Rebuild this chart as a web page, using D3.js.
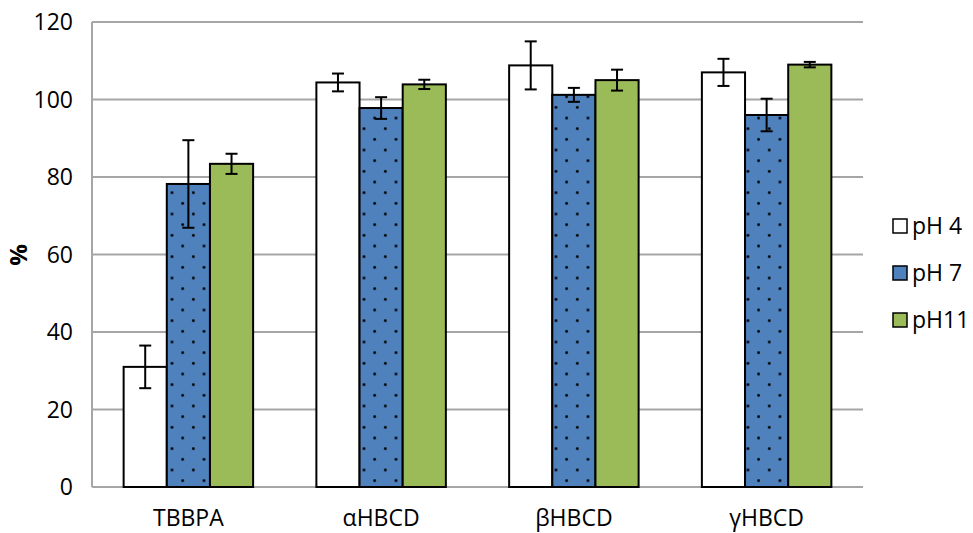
<!DOCTYPE html>
<html>
	<head>
		<meta charset="utf-8">
		<script src="https://cdn.jsdelivr.net/npm/d3@7"></script>
		<title>pH recovery chart</title>
		<style>
			body { margin:0; background:#fff; }
			text { font-family:"Open Sans", sans-serif; fill:#000; }
		</style>
	</head>
	<body>
		<script type="text/javascript" charset="utf-8">
			// data
			var categories = ["TBBPA", "αHBCD", "βHBCD", "γHBCD"];
			var series = ["pH 4", "pH 7", "pH11"];
			var pH4 = [31, 104.4, 108.8, 107];
			var pH7 = [78.2, 97.8, 101.2, 96];
			var pH11 = [83.4, 103.9, 105, 109];
			var pH4Err = [5.5, 2.3, 6.2, 3.5];
			var pH7Err = [11.3, 2.8, 1.8, 4.2];
			var pH11Err = [2.6, 1.2, 2.7, 0.7];
			var yTicks = [0, 20, 40, 60, 80, 100, 120];

			var values = [pH4, pH7, pH11];
			var errors = [pH4Err, pH7Err, pH11Err];
			var fills = ["#ffffff", "url(#dots)", "#9bbb59"];
			var legendFills = ["#ffffff", "#4f81bd", "#9bbb59"];

			var W = 973, H = 533;
			var mLeft = 92, mRight = 863, mTop = 22, mBottom = 487;

			var svg = d3.select("body").append("svg")
				.attr("width", W)
				.attr("height", H);

			// dotted pattern for the pH 7 bars
			var pat = svg.append("defs").append("pattern")
				.attr("id", "dots")
				.attr("patternUnits", "userSpaceOnUse")
				.attr("x", 166.7).attr("y", 187.4)
				.attr("width", 21.33).attr("height", 21.33);
			pat.append("rect").attr("width", 21.33).attr("height", 21.33).attr("fill", "#4f81bd");
			pat.append("circle").attr("cx", 5.33).attr("cy", 5.33).attr("r", 1.45).attr("fill", "#000");
			pat.append("circle").attr("cx", 16).attr("cy", 16).attr("r", 1.45).attr("fill", "#000");

			var y = d3.scaleLinear().domain([0, 120]).range([mBottom, mTop]);
			var x0 = d3.scaleBand().domain(categories).range([mLeft, mRight]).padding(0);
			var x1 = d3.scaleBand().domain(series).range([0, x0.bandwidth()])
				.paddingInner(0).paddingOuter(0.733);

			// gridlines
			svg.append("g").selectAll("line")
				.data(yTicks)
				.enter().append("line")
				.attr("x1", mLeft).attr("x2", mRight)
				.attr("y1", function(d){ return y(d); })
				.attr("y2", function(d){ return y(d); })
				.attr("stroke", "#a6a6a6")
				.attr("stroke-width", 2);
			svg.append("line")
				.attr("x1", mLeft).attr("x2", mLeft)
				.attr("y1", mTop).attr("y2", mBottom)
				.attr("stroke", "#a6a6a6").attr("stroke-width", 2);

			// y tick labels
			svg.append("g").selectAll("text")
				.data(yTicks)
				.enter().append("text")
				.attr("x", 73)
				.attr("y", function(d){ return y(d); })
				.attr("dy", "0.35em")
				.attr("text-anchor", "end")
				.style("font-size", "23px")
				.text(function(d){ return d; });

			// y axis title
			svg.append("text")
				.attr("transform", "translate(19,255) rotate(-90)")
				.attr("dy", "0.35em")
				.attr("text-anchor", "middle")
				.style("font-size", "24px")
				.style("font-weight", "bold")
				.text("%");

			// x labels
			svg.append("g").selectAll("text")
				.data(categories)
				.enter().append("text")
				.attr("x", function(d){ return x0(d) + x0.bandwidth() / 2; })
				.attr("y", 518)
				.attr("dy", "0.35em")
				.attr("text-anchor", "middle")
				.style("font-size", "23px")
				.text(function(d){ return d; });

			// bars
			var rows = [];
			categories.forEach(function(c, i){
				series.forEach(function(s, j){
					rows.push({cat:c, ser:s, j:j, v:values[j][i], e:errors[j][i]});
				});
			});

			var g = svg.append("g");
			g.selectAll("rect")
				.data(rows)
				.enter().append("rect")
				.attr("x", function(d){ return x0(d.cat) + x1(d.ser); })
				.attr("y", function(d){ return y(d.v); })
				.attr("width", x1.bandwidth())
				.attr("height", function(d){ return y(0) - y(d.v); })
				.attr("fill", function(d){ return fills[d.j]; })
				.attr("stroke", "#000")
				.attr("stroke-width", 2);

			// error bars
			var eb = svg.append("g").attr("stroke", "#000").attr("stroke-width", 2);
			rows.forEach(function(d){
				var cx = x0(d.cat) + x1(d.ser) + x1.bandwidth() / 2;
				eb.append("line").attr("x1", cx).attr("x2", cx)
					.attr("y1", y(d.v + d.e)).attr("y2", y(d.v - d.e));
				[d.v + d.e, d.v - d.e].forEach(function(t){
					eb.append("line").attr("x1", cx - 6).attr("x2", cx + 6)
						.attr("y1", y(t)).attr("y2", y(t));
				});
			});

			// legend
			var legY = [226, 273, 320];
			var leg = svg.append("g").selectAll("g")
				.data(series)
				.enter().append("g")
				.attr("transform", function(d, i){ return "translate(893," + legY[i] + ")"; });
			leg.append("rect")
				.attr("x", 0).attr("y", -7)
				.attr("width", 14).attr("height", 14)
				.attr("fill", function(d, i){ return legendFills[i]; })
				.attr("stroke", "#000")
				.attr("stroke-width", 1.5);
			leg.append("text")
				.attr("x", 19)
				.attr("dy", "0.35em")
				.style("font-size", "23px")
				.text(function(d){ return d; });
		</script>
	</body>
</html>
